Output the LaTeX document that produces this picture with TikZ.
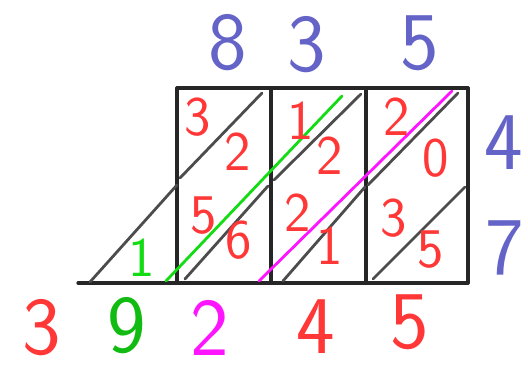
\documentclass[tikz,border=0pt]{standalone}
\usepackage{fontspec}
\usepackage{tikz}
\definecolor{digblue}{RGB}{100,100,200}
\definecolor{digred}{RGB}{255,55,55}
\definecolor{carrygreen}{RGB}{20,220,20}
\definecolor{summag}{RGB}{255,20,255}
\tikzset{
  lat/.style={line width=3.2pt,black!85,line cap=round},
  diag/.style={line width=2.8pt,black!70,line cap=round},
  hilite/.style={line width=2.8pt,line cap=round},
  factordig/.style={text=digblue,inner sep=0pt,
    font=\sffamily\fontsize{82}{82}\selectfont},
  celldig/.style={text=digred,inner sep=0pt,
    font=\sffamily\fontsize{56}{56}\selectfont},
  sumdig/.style={inner sep=0pt,font=\sffamily\fontsize{82}{82}\selectfont},
}
\begin{document}
\begin{tikzpicture}[x=1pt,y=-1pt]
  \useasboundingbox (0,0) rectangle (528,369);
  % corners of the lattice
  \coordinate (tl) at (177,88);
  \coordinate (tr) at (468,88);
  \coordinate (bl) at (78,283);
  \coordinate (br) at (468,283);
  \foreach \n/\x in {1/177,2/271,3/366,4/468}{
    \coordinate (top\n) at (\x,88);
    \coordinate (bot\n) at (\x,283);
  }
  % frame
  \draw[lat] (tl) -- (tr);
  \draw[lat] (bl) -- (br);
  \foreach \n in {1,...,4}
    \draw[lat] (top\n) -- (bot\n);
  % diagonals
  \coordinate (d1a) at (90,282);   \coordinate (d1b) at (177,185);
  \coordinate (d2a) at (180,178);  \coordinate (d2b) at (262,93);
  \coordinate (d3a) at (185,279);  \coordinate (d3b) at (268,186);
  \coordinate (d4a) at (274,180);  \coordinate (d4b) at (361,94);
  \coordinate (d5a) at (283,281);  \coordinate (d5b) at (365,187);
  \coordinate (d6a) at (368,185);  \coordinate (d6b) at (458,93);
  \coordinate (d7a) at (373,279);  \coordinate (d7b) at (465,187);
  \foreach \i in {1,...,7}
    \draw[diag] (d\i a) -- (d\i b);
  % highlighted diagonals
  \coordinate (g1) at (166,281);  \coordinate (g2) at (342,96);
  \coordinate (m1) at (259,281);  \coordinate (m2) at (452,91);
  \draw[hilite,carrygreen] (g1) -- (g2);
  \draw[hilite,summag] (m1) -- (m2);
  % factors
  \node[factordig] (f8) at (228,43) {8};
  \node[factordig] (f3) at (307,45) {3};
  \node[factordig] (f5) at (420,43) {5};
  \node[factordig] (f4) at (504,143) {4};
  \node[factordig] (f7) at (505,248) {7};
  % partial products
  \foreach \name/\x/\y/\d in {a/198/117/3,b/238/152/2,c/301/121/1,d/330/156/2,
      e/397/117/2,f/436/158/0,g/204/216/5,h/239/240/6,i/298/213/2,
      j/330/246/1,k/394/218/3,l/431/250/5}
    \node[celldig] (p\name) at (\x,\y) {\d};
  % carry
  \node[celldig,text=carrygreen] (carry) at (142,258) {1};
  % result
  \node[sumdig,text=digred] (r1) at (42,328) {3};
  \node[sumdig,text=carrygreen!85!black] (r2) at (127,326) {9};
  \node[sumdig,text=summag] (r3) at (210,328) {2};
  \node[sumdig,text=digred] (r4) at (316,327) {4};
  \node[sumdig,text=digred] (r5) at (410,322) {5};
\end{tikzpicture}
\end{document}
